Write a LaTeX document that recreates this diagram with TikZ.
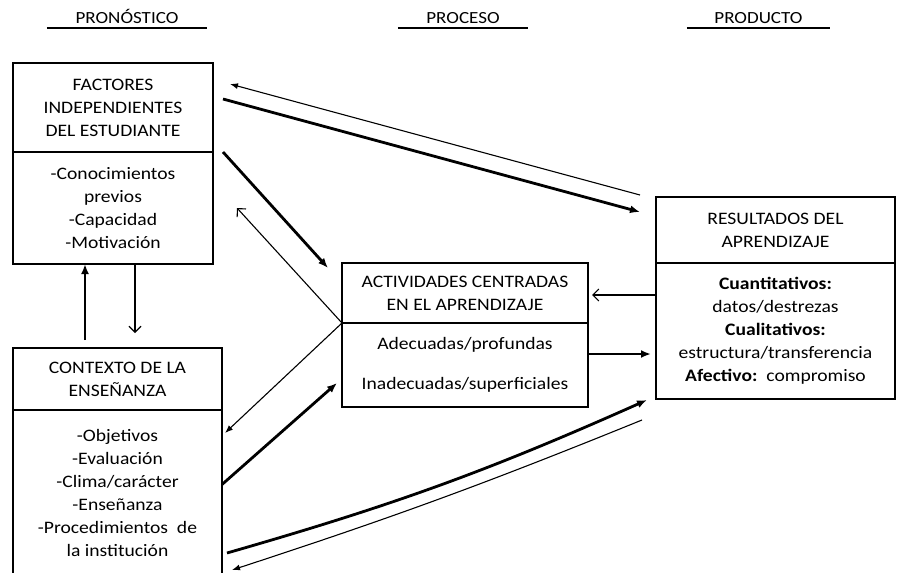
\documentclass[tikz,border=0pt]{standalone}
\usepackage{fontspec}
\setmainfont{Carlito}[FakeStretch=1.12]
\usetikzlibrary{arrows.meta,calc}
\newcommand{\diagfont}{\fontsize{17.5}{23}\selectfont}

\begin{document}
\begin{tikzpicture}[x=1pt,y=-1pt,
  box/.style={draw,line width=1.6pt,anchor=north west,inner sep=0pt,
    outer sep=0pt,align=center,font=\diagfont},
  head/.style={anchor=south,inner xsep=0pt,inner ysep=4pt,text depth=0pt,
    font=\fontsize{17}{20}\selectfont},
  rule/.style={line width=2.4pt},
  bigarrow/.style={line width=2.8pt,-{Latex[length=10pt,width=8pt]}},
  thinarrow/.style={line width=1.1pt,-{Latex[length=8pt,width=6pt]}},
  openarrow/.style={line width=1.1pt,-{Straight Barb[length=6pt,width=12pt]}}]
\useasboundingbox (0,0) rectangle (897,573);
% column titles
\node[head,minimum width=160pt] (pron) at (127,28) {PRONÓSTICO};
\node[head,minimum width=130pt] (proc) at (463,28) {PROCESO};
\node[head,minimum width=143pt] (prod) at (758.5,28) {PRODUCTO};
\draw[rule] (pron.south west) -- (pron.south east)
            (proc.south west) -- (proc.south east)
            (prod.south west) -- (prod.south east);
% pronostico
\node[box,minimum width=200pt,minimum height=89pt] (facA) at (13,63)
  {FACTORES\\INDEPENDIENTES\\DEL ESTUDIANTE};
\node[box,minimum width=200pt,minimum height=112pt] (facB) at (13,152)
  {-Conocimientos\\previos\\-Capacidad\\-Motivación};
\node[box,minimum width=209pt,minimum height=62pt] (conA) at (13,348)
  {CONTEXTO DE LA\\ENSEÑANZA};
\node[box,minimum width=209pt,minimum height=165pt] (conB) at (13,410)
  {-Objetivos\\-Evaluación\\-Clima/carácter\\-Enseñanza\\-Procedimientos\ \ de\\la institución};
% proceso
\node[box,minimum width=246pt,minimum height=60pt] (actA) at (342,263)
  {ACTIVIDADES CENTRADAS\\EN EL APRENDIZAJE};
\node[box,minimum width=246pt,minimum height=84pt] (actB) at (342,323)
  {Adecuadas/profundas\\[17pt]Inadecuadas/superficiales};
% producto
\node[box,minimum width=239pt,minimum height=66pt] (resA) at (656,197)
  {RESULTADOS DEL\\APRENDIZAJE};
\node[box,minimum width=239pt,minimum height=136pt] (resB) at (656,263)
  {\textbf{Cuantitativos:}\\datos/destrezas\\\textbf{Cualitativos:}\\estructura/transferencia\\\textbf{Afectivo:}\ \ compromiso};
% arrows
\draw[thinarrow] ($(resA.north west)+(-16,-2)$) -- ($(facA.north east)+(17,21)$);
\draw[bigarrow] ($(facA.north east)+(10,36)$) -- ($(resA.north west)+(-16,15)$);
\draw[bigarrow] ($(facB.north east)+(10,0)$) -- ($(actA.north west)+(-14,5)$);
\draw[openarrow] (actA.south west) -- ($(facB.east)+(24,0)$);
\draw[thinarrow] (actA.south west) -- ($(conB.north east)+(3,23)$);
\draw[bigarrow] ($(conB.east)+(0,-8)$) -- ($(actB.south west)+(-5,-24)$);
\draw[openarrow] ($(resB.north west)+(0,32)$) -- ($(actA.east)+(4,2)$);
\draw[bigarrow] ($(actB.east)+(0,-11)$) -- ($(resB.west)+(-5,23)$);
\draw[bigarrow] ($(conB.south east)+(5,-22)$) to[bend right=4] ($(resB.south west)+(-9,1)$);
\draw[thinarrow] ($(resB.south west)+(-14,21)$) to[bend left=2] ($(conB.south east)+(10,-5)$);
\draw[bigarrow] ($(conA.north west)+(72,-8)$) -- ($(facB.south west)+(72,0)$);
\draw[openarrow] ($(facB.south west)+(122,0)$) -- ($(conA.north west)+(122,-15)$);
\end{tikzpicture}
\end{document}
